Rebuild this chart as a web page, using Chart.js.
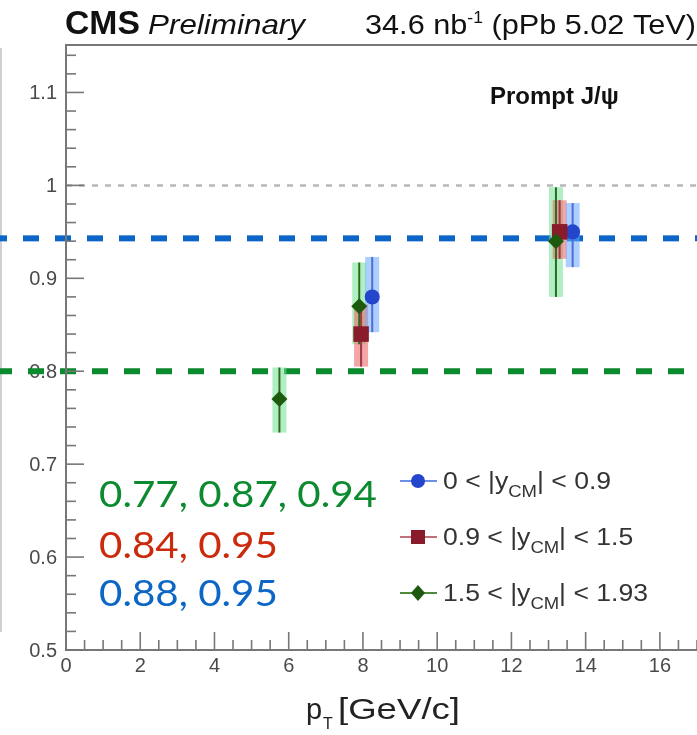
<!DOCTYPE html>
<html>
<head>
<meta charset="utf-8">
<script src="https://cdn.jsdelivr.net/npm/chart.js@4.4.1/dist/chart.umd.min.js"></script>
<style>
  html, body { margin: 0; padding: 0; background: #fff; overflow: hidden; }
  canvas { display: block; }
</style>
</head>
<body>
<canvas id="c" width="697" height="735"></canvas>
<script>
// Prompt J/psi nuclear modification vs pT in three |y_CM| bins

// 1.5 < |y_CM| < 1.93
const greenX  = [5.75, 7.9, 13.2];
const greenY  = [0.77, 0.87, 0.94];
const greenLo = [0.734, 0.829, 0.88];
const greenHi = [0.804, 0.917, 0.998];

// 0.9 < |y_CM| < 1.5
const redX  = [7.95, 13.3];
const redY  = [0.84, 0.95];
const redLo = [0.805, 0.921];
const redHi = [0.872, 0.984];

// 0 < |y_CM| < 0.9
const blueX  = [8.25, 13.65];
const blueY  = [0.88, 0.95];
const blueLo = [0.842, 0.912];
const blueHi = [0.923, 0.981];

// legend text pieces (prefix, subscript, suffix)
const legendPre = ['0 < |y', '0.9 < |y', '1.5 < |y'];
const legendSub = ['CM', 'CM', 'CM'];
const legendSuf = ['| < 0.9', '| < 1.5', '| < 1.93'];

// axis ticks
const xTickValues = [0, 2, 4, 6, 8, 10, 12, 14, 16];
const xTickLabels = ['0', '2', '4', '6', '8', '10', '12', '14', '16'];
const yTickValues = [0.5, 0.6, 0.7, 0.8, 0.9, 1.0, 1.1];
const yTickLabels = ['0.5', '0.6', '0.7', '0.8', '0.9', '1', '1.1'];

// horizontal guide levels
const unityLevel = 1.0;
const blueGuide = 0.943;
const greenGuide = 0.80;

const COL = {
  blue:  { mark: '#2446cc', box: 'rgba(105,165,255,0.55)', line: '#4a6fd6', leg: '#6f8ee6', txt: '#0b66c6' },
  red:   { mark: '#8a1b2b', box: 'rgba(236,105,105,0.60)', line: '#9a3a45', leg: '#c0707a', txt: '#cc2a0c' },
  green: { mark: '#1e5a0e', box: 'rgba(110,225,145,0.55)', line: '#2e6a1c', leg: '#4f8a3e', txt: '#0b8a30' }
};

const groups = [
  { c: COL.green, x: greenX, y: greenY, lo: greenLo, hi: greenHi },
  { c: COL.red,   x: redX,   y: redY,   lo: redLo,   hi: redHi },
  { c: COL.blue,  x: blueX,  y: blueY,  lo: blueLo,  hi: blueHi }
];

function pts(xs, ys) { return xs.map((v, i) => ({ x: v, y: ys[i] })); }

const ROOT_FONT = '"Liberation Sans", Arial, sans-serif';

// draw a run of text pieces [{t, font, dy}] starting at (x, y), stretched horizontally by sx
function drawRun(ctx, pieces, x, y, sx) {
  ctx.save();
  ctx.translate(x, y);
  ctx.scale(sx, 1);
  ctx.textAlign = 'left';
  let cx = 0;
  pieces.forEach(p => {
    ctx.font = p.font;
    ctx.fillText(p.t, cx, p.dy || 0);
    cx += ctx.measureText(p.t).width;
  });
  ctx.restore();
}
function runWidth(ctx, pieces) {
  let w = 0;
  pieces.forEach(p => { ctx.font = p.font; w += ctx.measureText(p.t).width; });
  return w;
}

const decor = {
  id: 'decor',
  beforeDraw(chart) {
    const { ctx, scales: { x, y } } = chart;
    ctx.save();
    ctx.fillStyle = '#fff';
    ctx.fillRect(0, 0, chart.width, chart.height);

    // faint edge line at the far left
    ctx.strokeStyle = '#d0d0d0';
    ctx.lineWidth = 2;
    ctx.beginPath(); ctx.moveTo(1, 48); ctx.lineTo(1, 632); ctx.stroke();

    // header
    ctx.fillStyle = '#111';
    ctx.textBaseline = 'alphabetic';
    const cms = [{ t: 'CMS', font: 'bold 34px ' + ROOT_FONT }];
    drawRun(ctx, cms, 65, 34, 75 / runWidth(ctx, cms));
    const prel = [{ t: 'Preliminary', font: 'italic 28px ' + ROOT_FONT }];
    drawRun(ctx, prel, 148, 34, 157 / runWidth(ctx, prel));
    const lumi = [
      { t: '34.6 nb', font: '28px ' + ROOT_FONT },
      { t: '-1', font: '16px ' + ROOT_FONT, dy: -11 },
      { t: ' (pPb 5.02 TeV)', font: '28px ' + ROOT_FONT }
    ];
    drawRun(ctx, lumi, 365, 34, 331 / runWidth(ctx, lumi));

    // y tick labels
    ctx.fillStyle = '#4a4a4a';
    ctx.font = '20px ' + ROOT_FONT;
    ctx.textAlign = 'right';
    ctx.textBaseline = 'middle';
    yTickValues.forEach((v, i) => {
      ctx.fillText(yTickLabels[i], x.left - 9, y.getPixelForValue(v) + 1);
    });
    // x tick labels
    ctx.textAlign = 'center';
    ctx.textBaseline = 'top';
    xTickValues.forEach((v, i) => {
      ctx.fillText(xTickLabels[i], x.getPixelForValue(v), y.bottom + 6);
    });

    // x title: p_T [GeV/c]
    ctx.fillStyle = '#222';
    ctx.textBaseline = 'alphabetic';
    const brk = [{ t: '[GeV/c]', font: '29px ' + ROOT_FONT }];
    drawRun(ctx, [{ t: 'p', font: '29px ' + ROOT_FONT }], 306, 719, 1);
    drawRun(ctx, [{ t: 'T', font: '16px ' + ROOT_FONT }], 323, 729, 1);
    drawRun(ctx, brk, 338, 719, 122 / runWidth(ctx, brk));
    ctx.restore();
  },
  beforeDatasetsDraw(chart) {
    const { ctx, scales: { x, y } } = chart;
    ctx.save();
    // dotted unity line
    ctx.strokeStyle = '#b8b8b8';
    ctx.lineWidth = 2.5;
    ctx.setLineDash([6, 7]);
    const y1 = y.getPixelForValue(unityLevel);
    ctx.beginPath(); ctx.moveTo(x.left, y1); ctx.lineTo(chart.width, y1); ctx.stroke();

    // thick dashed guides across the whole width
    ctx.lineWidth = 6;
    ctx.setLineDash([16, 16]);
    ctx.strokeStyle = '#0b66c6';
    ctx.lineDashOffset = 9;
    const yb = y.getPixelForValue(blueGuide);
    ctx.beginPath(); ctx.moveTo(0, yb); ctx.lineTo(chart.width, yb); ctx.stroke();
    ctx.strokeStyle = '#0b8a30';
    ctx.lineDashOffset = 4;
    const yg = y.getPixelForValue(greenGuide);
    ctx.beginPath(); ctx.moveTo(0, yg); ctx.lineTo(chart.width, yg); ctx.stroke();
    ctx.setLineDash([]);

    // uncertainty boxes then thin error lines
    groups.forEach(g => {
      ctx.fillStyle = g.c.box;
      g.x.forEach((xv, i) => {
        const px = x.getPixelForValue(xv);
        const top = y.getPixelForValue(g.hi[i]);
        const bot = y.getPixelForValue(g.lo[i]);
        ctx.fillRect(px - 7, top, 14, bot - top);
      });
    });
    groups.forEach(g => {
      ctx.strokeStyle = g.c.line;
      ctx.lineWidth = 2;
      g.x.forEach((xv, i) => {
        const px = x.getPixelForValue(xv);
        ctx.beginPath();
        ctx.moveTo(px, y.getPixelForValue(g.hi[i]));
        ctx.lineTo(px, y.getPixelForValue(g.lo[i]));
        ctx.stroke();
      });
    });
    ctx.restore();
  },
  afterDatasetsDraw(chart) {
    const { ctx, scales: { x, y } } = chart;
    ctx.save();
    // frame
    ctx.strokeStyle = '#777';
    ctx.lineWidth = 2;
    ctx.beginPath();
    ctx.moveTo(chart.width, y.top - 1); ctx.lineTo(x.left, y.top - 1);
    ctx.lineTo(x.left, y.bottom); ctx.lineTo(chart.width, y.bottom);
    ctx.stroke();
    // y ticks (inside)
    ctx.lineWidth = 1.6;
    for (let k = 0; k <= 32; k++) {
      const v = 0.5 + k * 0.02;
      if (v > 1.15) break;
      const py = y.getPixelForValue(v);
      const len = (k % 5 === 0) ? 18 : 10;
      ctx.beginPath(); ctx.moveTo(x.left, py); ctx.lineTo(x.left + len, py); ctx.stroke();
    }
    // x ticks (inside)
    for (let k = 0; k <= 34; k++) {
      const v = k * 0.5;
      const px = x.getPixelForValue(v);
      const len = (k % 4 === 0) ? 18 : 10;
      ctx.beginPath(); ctx.moveTo(px, y.bottom); ctx.lineTo(px, y.bottom - len); ctx.stroke();
    }

    // Prompt J/psi
    ctx.fillStyle = '#111';
    ctx.font = 'bold 24px ' + ROOT_FONT;
    ctx.textAlign = 'left';
    ctx.textBaseline = 'alphabetic';
    ctx.fillText('Prompt J/\u03C8', 490, 104);

    // legend
    const legRows = [481, 537, 593];
    const legCols = [COL.blue, COL.red, COL.green];
    const legStyles = ['circle', 'rect', 'rectRot'];
    const legPieces = legRows.map((_, i) => [
      { t: legendPre[i], font: '23px ' + ROOT_FONT },
      { t: legendSub[i], font: '16px ' + ROOT_FONT, dy: 8 },
      { t: legendSuf[i], font: '23px ' + ROOT_FONT }
    ]);
    const legScale = 205 / runWidth(ctx, legPieces[2]);
    legRows.forEach((ry, i) => {
      ctx.strokeStyle = legCols[i].leg;
      ctx.lineWidth = 2;
      ctx.beginPath(); ctx.moveTo(400, ry); ctx.lineTo(437, ry); ctx.stroke();
      ctx.fillStyle = legCols[i].mark;
      ctx.beginPath();
      if (legStyles[i] === 'circle') ctx.arc(418, ry, 7, 0, Math.PI * 2);
      else if (legStyles[i] === 'rect') ctx.rect(411, ry - 7, 14, 14);
      else { ctx.moveTo(418, ry - 8); ctx.lineTo(425, ry); ctx.lineTo(418, ry + 8); ctx.lineTo(411, ry); ctx.closePath(); }
      ctx.fill();

      ctx.fillStyle = '#333';
      ctx.textBaseline = 'alphabetic';
      drawRun(ctx, legPieces[i], 443, ry + 8, legScale);
    });

    // value summaries
    const sumFont = '37px Lato, "Open Sans", sans-serif';
    const sumTexts = [greenY, redY, blueY].map(a => a.map(v => v.toFixed(2)).join(', '));
    const sumScale = 278 / runWidth(ctx, [{ t: sumTexts[0], font: sumFont }]);
    const sumCols = [COL.green.txt, COL.red.txt, COL.blue.txt];
    const sumBase = [507, 558, 606];
    sumTexts.forEach((t, i) => {
      ctx.fillStyle = sumCols[i];
      drawRun(ctx, [{ t, font: sumFont }], 99, sumBase[i], sumScale);
    });
    ctx.restore();
  }
};

new Chart(document.getElementById('c').getContext('2d'), {
  type: 'scatter',
  data: {
    datasets: [
      { label: '1.5 < |y_CM| < 1.93', data: pts(greenX, greenY), pointStyle: 'rectRot',
        pointRadius: 8, backgroundColor: COL.green.mark, borderWidth: 0 },
      { label: '0.9 < |y_CM| < 1.5', data: pts(redX, redY), pointStyle: 'rect',
        pointRadius: 11, backgroundColor: COL.red.mark, borderWidth: 0 },
      { label: '0 < |y_CM| < 0.9', data: pts(blueX, blueY), pointStyle: 'circle',
        pointRadius: 7.5, backgroundColor: COL.blue.mark, borderWidth: 0 }
    ]
  },
  options: {
    responsive: false,
    animation: false,
    events: [],
    layout: { autoPadding: false, padding: { left: 66, top: 46, right: 0, bottom: 85 } },
    scales: {
      x: { type: 'linear', min: 0, max: 17, display: false },
      y: { type: 'linear', min: 0.5, max: 1.15, display: false }
    },
    plugins: { legend: { display: false }, tooltip: { enabled: false } }
  },
  plugins: [decor]
});
</script>
</body>
</html>
